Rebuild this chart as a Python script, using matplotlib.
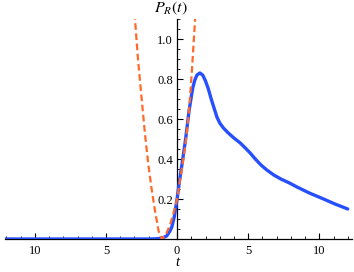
import numpy as np
import matplotlib
matplotlib.use("Agg")
import matplotlib.pyplot as plt
from matplotlib.ticker import MultipleLocator, FixedLocator, FixedFormatter

# blue curve P_R(t)
t_blue = [-12.1, -10, -8, -6, -4, -2, -1.5, -1.2, -1.0, -0.73, -0.5, -0.37, -0.2, 0.0,
          0.17, 0.4, 0.6, 0.85, 1.1, 1.25, 1.4, 1.6, 1.8, 2.0, 2.2, 2.4, 2.6, 2.8, 3.0,
          3.26, 3.6, 4.0, 4.44, 4.8, 5.14, 5.5, 5.9, 6.31, 6.8, 7.3, 7.9, 8.43, 9.3,
          10.3, 11.1, 12.0]
p_blue = [0.0, 0.0, 0.0, 0.0, 0.0, 0.0, 0.001, 0.003, 0.006, 0.015, 0.04, 0.06, 0.11, 0.2,
          0.29, 0.4, 0.5, 0.645, 0.755, 0.795, 0.82, 0.83, 0.82, 0.79, 0.75, 0.70, 0.655,
          0.61, 0.58, 0.555, 0.53, 0.505, 0.48, 0.455, 0.43, 0.40, 0.37, 0.345, 0.32,
          0.30, 0.28, 0.26, 0.23, 0.20, 0.175, 0.15]

# orange dashed approximation
t_or = [-3.0, -2.96, -2.75, -2.49, -2.25, -2.0, -1.78, -1.55, -1.3, -1.08, -0.8, -0.5,
        -0.25, 0.0, 0.2, 0.4, 0.6, 0.85, 1.05, 1.27, 1.32]
p_or = [1.13, 1.1, 0.9, 0.70, 0.52, 0.36, 0.245, 0.14, 0.04, 0.0, 0.02, 0.07,
        0.13, 0.2, 0.29, 0.38, 0.48, 0.645, 0.85, 1.1, 1.15]

xticks = [-10, -5, 0, 5, 10]
xlabels = ["10", "5", "0", "5", "10"]
yticks = [0.2, 0.4, 0.6, 0.8, 1.0]
ylabels = ["0.2", "0.4", "0.6", "0.8", "1.0"]

plt.rcParams['font.family'] = ['Liberation Serif', 'DejaVu Serif']

fig = plt.figure(figsize=(3.54, 2.72), dpi=100)
ax = fig.add_axes([5 / 354, 33 / 272, 347 / 354, 220 / 272])

ax.plot(t_blue, p_blue, color="#2650ff", lw=2.4, solid_capstyle="round",
        solid_joinstyle="round", zorder=3)
ax.plot(t_or, p_or, color="#ff6a2a", lw=1.6, dashes=(3, 1.6), zorder=4)

ax.set_xlim(-12.1, 12.3)
ax.set_ylim(0, 1.1)

for s in ["top", "right"]:
    ax.spines[s].set_visible(False)
ax.spines["left"].set_position(("data", 0))
ax.spines["bottom"].set_position(("data", 0))
ax.spines["left"].set_linewidth(0.9)
ax.spines["bottom"].set_linewidth(0.9)

ax.xaxis.set_major_locator(FixedLocator(xticks))
ax.xaxis.set_major_formatter(FixedFormatter(xlabels))
ax.xaxis.set_minor_locator(MultipleLocator(1))
ax.yaxis.set_major_locator(FixedLocator(yticks))
ax.yaxis.set_major_formatter(FixedFormatter(ylabels))
ax.yaxis.set_minor_locator(MultipleLocator(0.05))

ax.tick_params(axis="x", which="major", direction="in", length=4, width=0.8, labelsize=9, pad=4)
ax.tick_params(axis="x", which="minor", direction="in", length=2, width=0.6)
ax.tick_params(axis="y", which="major", direction="in", length=4, width=0.8, labelsize=9, pad=3)
ax.tick_params(axis="y", which="minor", direction="in", length=2, width=0.6)

fig.text(177 / 354, 1 - 262 / 272, "t", ha="center", va="center", fontsize=10.5,
         style="italic")
fig.text(171 / 354, 1 - 8 / 272, r"$P_R(t)$", ha="center", va="center", fontsize=11.5,
         math_fontfamily="stix")

fig.savefig("out.png", dpi=100)
